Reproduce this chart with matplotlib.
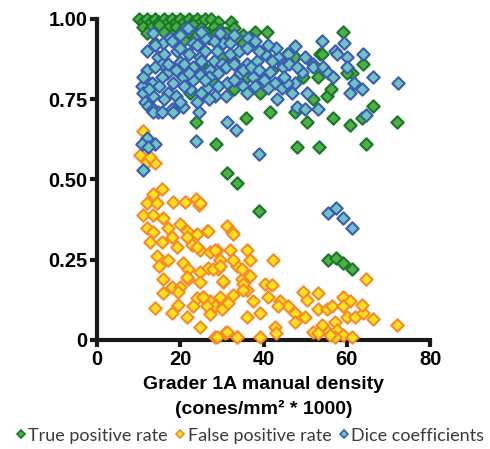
import matplotlib
matplotlib.use("Agg")
import matplotlib.pyplot as plt
from matplotlib.lines import Line2D

# True positive rate (x = grader 1A density, y = rate)
tpr_x = [10, 11, 12, 13, 14, 15, 16, 17, 18, 19, 20, 21, 22, 23, 24, 25, 26, 27.4, 29, 32.2,
         11, 13, 15, 17, 19, 21, 23, 25, 28, 29.5, 33,
         12, 16, 18, 20, 22, 24, 26, 28, 31, 35, 38, 40.8,
         13.9, 21, 27, 30, 34, 37, 35,
         40, 45.6, 47.6, 53.6, 59.1, 42, 32.7, 54.1, 63.9, 61.3, 49.5, 53.1, 60.1,
         39.2, 44.7, 51.9, 55.3, 56.2, 22.3, 28, 25, 30, 36, 33,
         35.8, 41.6, 47.6, 50.4, 56.7, 60.8, 63.7, 66.3, 72.1, 23.8, 28.6, 48, 53.3, 64.6,
         31.1, 33.5, 38.9, 55.5, 57.4, 59.1, 61.3]
tpr_y = [1.0, 0.99, 1.0, 0.99, 1.0, 0.99, 1.0, 0.99, 1.0, 0.99, 1.0, 0.99, 1.0, 0.99, 1.0, 0.99, 1.0, 1.0, 0.99, 0.99,
         0.975, 0.97, 0.98, 0.97, 0.975, 0.97, 0.98, 0.97, 0.975, 0.965, 0.97,
         0.955, 0.96, 0.95, 0.955, 0.96, 0.95, 0.96, 0.95, 0.955, 0.95, 0.96, 0.96,
         0.925, 0.935, 0.94, 0.93, 0.935, 0.94, 0.925,
         0.90, 0.89, 0.88, 0.89, 0.96, 0.84, 0.87, 0.89, 0.86, 0.83, 0.82, 0.82, 0.83,
         0.77, 0.79, 0.75, 0.76, 0.78, 0.77, 0.80, 0.86, 0.88, 0.82, 0.78,
         0.69, 0.71, 0.71, 0.68, 0.69, 0.67, 0.69, 0.73, 0.68, 0.68, 0.61, 0.60, 0.60, 0.61,
         0.52, 0.49, 0.40, 0.25, 0.255, 0.24, 0.22]

# False positive rate
fpr_x = [15.6, 13.5, 12, 14.4, 18.3, 21.1, 23.8, 24.5, 11.1, 13.5, 15.9, 12, 13.5, 17.1, 19.9, 21.6,
         24, 26.4, 12.7, 15.6, 18, 19.2, 22.8, 24.7, 27.1, 28.8, 14.4, 17.1, 14.9, 20.7, 21.9, 24.7,
         26.7, 29.1, 15.9, 18, 19.9, 19.5, 21.9, 24, 25.5, 27.1, 28.3, 30.3, 15.9, 13.9, 18, 19.5,
         21.6, 28.3, 30.8,
         12, 13.9, 10.3, 11.1, 12.7,
         31.2, 33.6, 28.8, 32.7, 31.2, 32.4, 36, 32, 29.5, 33.6, 34.8, 36, 30.3, 27.9, 25.5, 26.4,
         23.1, 24.7, 21.6, 24, 21.6,
         24.7, 26.7, 32.7, 28.3, 36.8, 42.3, 34.8, 36.8, 40.4, 42, 41.1, 37.5, 44, 45.9, 43.5, 39.2,
         36, 42.8, 47.6, 50, 47.6, 49.5, 50.4, 53.1, 53.1, 55.3, 56.5, 54.1, 51.9, 55.5, 57.2, 57.7,
         59.1, 60.8, 59.1, 60, 62, 63.9, 63.7, 66.3, 64.6, 72.1, 59.1, 61.3, 57.2, 33.6, 39.2,
         24.7, 27.1, 30, 31.5, 29.5, 35, 30.3, 32.7, 29.5, 35, 43, 53, 56]
fpr_y = [0.47, 0.455, 0.425, 0.425, 0.43, 0.43, 0.44, 0.42, 0.39, 0.39, 0.38, 0.35, 0.335, 0.35, 0.36, 0.34,
         0.33, 0.34, 0.305, 0.305, 0.32, 0.29, 0.295, 0.28, 0.275, 0.28, 0.26, 0.25, 0.23, 0.24, 0.22, 0.21,
         0.225, 0.22, 0.19, 0.165, 0.165, 0.15, 0.19, 0.13, 0.135, 0.12, 0.105, 0.105, 0.145, 0.10, 0.085, 0.11,
         0.07, 0.01, 0.02,
         0.555, 0.55, 0.575, 0.65, 0.57,
         0.025, 0.01, 0.01, 0.14, 0.355, 0.335, 0.28, 0.28, 0.25, 0.23, 0.19, 0.155, 0.18, 0.22, 0.135, 0.105,
         0.105, 0.18, 0.195, 0.29, 0.32,
         0.425, 0.34, 0.33, 0.28, 0.25, 0.25, 0.22, 0.20, 0.175, 0.17, 0.135, 0.12, 0.12, 0.105, 0.105, 0.085,
         0.07, 0.04, 0.085, 0.07, 0.055, 0.15, 0.125, 0.145, 0.095, 0.095, 0.105, 0.045, 0.025, 0.025, 0.055, 0.03,
         0.135, 0.12, 0.105, 0.07, 0.07, 0.085, 0.11, 0.065, 0.19, 0.045, 0.015, 0.01, 0.01, 0.01, 0.01,
         0.04, 0.08, 0.095, 0.115, 0.135, 0.175, 0.185, 0.25, 0.23, 0.155, 0.02, 0.02, 0.015]

# Dice coefficients
dice_x = [13.5, 15.9, 17.5, 19.2, 21.9, 23.1, 24.7, 28.8, 30.3, 29.5, 32, 36.3,
          14.7, 15.6, 12, 16.8, 19.9, 18.3, 20.7, 15.6, 13.2, 10.8, 11.1, 13.5, 11.5, 12.3, 13.5, 14.7,
          18, 20.7, 22.3, 24.7, 26.4, 27.1, 28.3,
          31.2, 34.4, 37.5, 36, 38.4, 40.4, 43.5, 45.9, 41.6, 42.8, 41.1, 44.4, 44.7, 46.8, 47.6, 45.6,
          43.2, 44.7, 47.6, 50, 51.9, 49.2, 50.4, 51.9, 54.3, 55.5, 56.7, 57.2, 57.7, 54.1, 59.3, 60,
          60, 63.9, 61.7, 66.3, 63.7, 60.8, 64.6, 53.1, 48, 50, 72.3,
          31.2, 33.4, 38.9, 23.8, 13.5, 15.6, 18.3, 24.5,
          12, 10.8, 13.9, 12.3, 11.1,
          55.5, 57.4, 59.1, 61.3,
          12, 14, 16, 18, 20, 22, 24, 26, 28, 30, 32, 34, 36, 38, 17, 19, 21, 23, 25, 27, 29, 31,
          33, 35, 37, 39, 14, 11, 12.5, 15, 17, 19, 21, 23, 25, 27, 29, 31, 33, 35, 16, 20, 24, 26,
          22, 28, 33, 26, 20, 25, 39, 42, 43, 46, 48, 40, 38, 36, 41, 45]
dice_y = [0.955, 0.925, 0.94, 0.90, 0.97, 0.925, 0.88, 0.90, 0.925, 0.955, 0.925, 0.94,
          0.88, 0.86, 0.84, 0.83, 0.865, 0.80, 0.82, 0.82, 0.80, 0.79, 0.77, 0.76, 0.74, 0.73, 0.72, 0.71,
          0.72, 0.725, 0.78, 0.825, 0.785, 0.84, 0.76,
          0.80, 0.83, 0.82, 0.86, 0.87, 0.89, 0.88, 0.89, 0.835, 0.80, 0.785, 0.785, 0.86, 0.77, 0.80, 0.80,
          0.75, 0.85, 0.915, 0.88, 0.86, 0.835, 0.77, 0.85, 0.85, 0.83, 0.82, 0.90, 0.89, 0.93, 0.925, 0.88,
          0.85, 0.89, 0.80, 0.82, 0.78, 0.77, 0.70, 0.72, 0.725, 0.72, 0.80,
          0.68, 0.655, 0.58, 0.62, 0.71, 0.71, 0.71, 0.71,
          0.63, 0.61, 0.61, 0.60, 0.53,
          0.395, 0.41, 0.38, 0.35,
          0.90, 0.92, 0.89, 0.93, 0.91, 0.89, 0.92, 0.90, 0.87, 0.86, 0.89, 0.90, 0.91, 0.93, 0.86, 0.84, 0.86, 0.85,
          0.87, 0.82, 0.83, 0.85, 0.86, 0.84, 0.85, 0.84, 0.85, 0.82, 0.78, 0.79, 0.77, 0.76, 0.79, 0.81, 0.77, 0.75,
          0.79, 0.76, 0.81, 0.79, 0.75, 0.74, 0.74, 0.81,
          0.83, 0.93, 0.95, 0.94, 0.95, 0.96, 0.90, 0.87, 0.91, 0.86, 0.85, 0.81, 0.79, 0.77, 0.92, 0.82]

green_face, green_edge = "#4fae45", "#17782a"
orange_face, orange_edge = "#ffe41c", "#f7892a"
blue_face, blue_edge = "#70c4c0", "#3b5cb3"

plt.rcParams["font.family"] = "Liberation Sans"
fig = plt.figure(figsize=(4.9, 4.49), dpi=100)
ax = fig.add_axes([0.198, 0.243, 0.68, 0.715])

ax.scatter(tpr_x, tpr_y, marker="D", s=40, c=green_face, edgecolors=green_edge, linewidths=1.5, clip_on=False, zorder=3)
ax.scatter(fpr_x, fpr_y, marker="D", s=40, c=orange_face, edgecolors=orange_edge, linewidths=1.5, clip_on=False, zorder=3)
ax.scatter(dice_x, dice_y, marker="D", s=40, c=blue_face, edgecolors=blue_edge, linewidths=1.5, clip_on=False, zorder=3)

ax.set_xlim(0, 80)
ax.set_ylim(0, 1.0)
ax.set_xticks([0, 20, 40, 60, 80])
ax.set_yticks([0, 0.25, 0.5, 0.75, 1.0])
ax.set_yticklabels(["0", "0.25", "0.50", "0.75", "1.00"])
for s in ["top", "right"]:
    ax.spines[s].set_visible(False)
for s in ["left", "bottom"]:
    ax.spines[s].set_linewidth(3)
    ax.spines[s].set_color("#1a1a1a")
ax.tick_params(width=3, length=5, color="#1a1a1a", labelsize=14.5, pad=2)
for lab in ax.get_xticklabels() + ax.get_yticklabels():
    lab.set_fontweight("bold")

ax.set_xlabel("Grader 1A manual density\n(cones/mm² * 1000)", fontsize=14, fontweight="bold",
              labelpad=5, linespacing=1.5)

handles = [
    Line2D([], [], marker="D", ls="", ms=4, mfc=green_face, mec=green_edge, mew=1.2, label="True positive rate"),
    Line2D([], [], marker="D", ls="", ms=4, mfc=orange_face, mec=orange_edge, mew=1.2, label="False positive rate"),
    Line2D([], [], marker="D", ls="", ms=4, mfc=blue_face, mec=blue_edge, mew=1.2, label="Dice coefficients"),
]
leg = fig.legend(handles=handles, loc="center", bbox_to_anchor=(0.51, 0.03), ncol=3, frameon=False,
                 handlelength=0.6, handletextpad=0.1, columnspacing=0.4, borderaxespad=0,
                 prop={"family": "Lato", "size": 13})
for t in leg.get_texts():
    t.set_color("#3a3a3a")

fig.savefig("out.png", dpi=100)
